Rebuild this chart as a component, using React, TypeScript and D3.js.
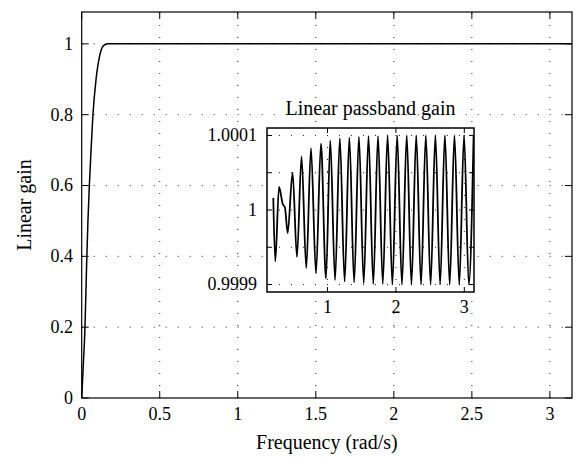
import React from 'react';
import * as d3 from 'd3';

// main plot: overall gain response
const mainFreq = [0, 0.011, 0.021, 0.027, 0.033, 0.04, 0.049, 0.06, 0.072, 0.092, 0.117, 0.14, 0.167, 0.25, Math.PI];
const mainGain = [0, 0.1, 0.2, 0.3, 0.4, 0.5, 0.6, 0.7, 0.8, 0.9, 0.97, 0.995, 1, 1, 1];
const mainXTicks = [0, 0.5, 1, 1.5, 2, 2.5, 3];
const mainYTicks = [0, 0.2, 0.4, 0.6, 0.8, 1];

// inset: passband ripple, read at the turning points (deviation from 1, in units of 1e-4)
const insetFreq = [
  0.207, 0.236, 0.291, 0.345, 0.378, 0.417, 0.489, 0.553, 0.62, 0.689, 0.758, 0.831, 0.904, 0.977,
  1.04, 1.11, 1.18, 1.25, 1.319, 1.389, 1.459, 1.529, 1.599, 1.669, 1.738, 1.808, 1.878, 1.948,
  2.018, 2.088, 2.158, 2.227, 2.297, 2.367, 2.437, 2.507, 2.577, 2.646, 2.716, 2.786, 2.856, 2.926,
  2.996, 3.066, 3.136,
];
const insetDev = [
  0.16, -0.69, 0.31, 0.08, 0.03, -0.31, 0.5, -0.63, 0.72, -0.78, 0.83, -0.85, 0.89, -0.92,
  0.93, -0.94, 0.96, -0.96, 0.97, -0.97, 0.98, -0.98, 0.99, -0.99, 0.99, -0.99, 1.0, -1.0,
  1.0, -1.0, 1.0, -1.0, 1.0, -1.0, 1.0, -1.0, 1.0, -1.0, 1.0, -1.0, 1.0, -1.0,
  1.0, -1.0, 1.0,
];
const insetXTicks = [1, 2, 3];
const insetYTicks = [0.9999, 0.99995, 1, 1.00005, 1.0001];
const insetYLabels = ['1.0001', '1', '0.9999'];
const insetYLabelVals = [1.0001, 1, 0.9999];

const W = 580;
const H = 459;
const FONT = '"Liberation Serif", "DejaVu Serif", serif';

export default function App() {
  const x = d3.scaleLinear().domain([0, Math.PI]).range([81.7, 572]);
  const y = d3.scaleLinear().domain([0, 1.09]).range([398, 12]);

  const ix = d3.scaleLinear().domain([0.115, Math.PI]).range([267, 474]);
  const iy = d3.scaleLinear().domain([0.99989, 1.00011]).range([292, 128]);

  const [x0, x1] = x.range();
  const [y0, y1] = y.range();
  const [ix0, ix1] = ix.range();
  const [iy0, iy1] = iy.range();

  const mainLine = d3.line<number>()
    .x((d, i) => x(mainFreq[i]))
    .y(d => y(d))
    .curve(d3.curveMonotoneX);

  const insetLine = d3.line<number>()
    .x((d, i) => ix(insetFreq[i]))
    .y(d => iy(1 + d * 1e-4))
    .curve(d3.curveMonotoneX);

  const grid = { stroke: '#222', strokeWidth: 1, strokeDasharray: '1,11' };
  const tickLen = 7;
  const iTickLen = 5;

  return (
    <svg width={W} height={H} style={{ position: 'absolute', left: 0, top: 0, background: '#fff' }}
      fontFamily={FONT}>
      <rect x={0} y={0} width={W} height={H} fill="#fff" />
      <defs>
        <clipPath id="mainClip"><rect x={x0} y={y1} width={x1 - x0} height={y0 - y1} /></clipPath>
        <clipPath id="insetClip"><rect x={ix0} y={iy1} width={ix1 - ix0} height={iy0 - iy1} /></clipPath>
      </defs>

      {/* main grid */}
      {mainXTicks.filter(t => t > 0).map(t => (
        <line key={'gx' + t} x1={x(t)} x2={x(t)} y1={y0} y2={y1} {...grid} />
      ))}
      {mainYTicks.filter(t => t > 0).map(t => (
        <line key={'gy' + t} x1={x0} x2={x1} y1={y(t)} y2={y(t)} {...grid} />
      ))}

      {/* main ticks */}
      {mainXTicks.map(t => (
        <g key={'tx' + t}>
          <line x1={x(t)} x2={x(t)} y1={y0} y2={y0 - tickLen} stroke="#000" />
          <line x1={x(t)} x2={x(t)} y1={y1} y2={y1 + tickLen} stroke="#000" />
          <text x={x(t)} y={420} textAnchor="middle" fontSize={18}>{String(t)}</text>
        </g>
      ))}
      {mainYTicks.map(t => (
        <g key={'ty' + t}>
          <line x1={x0} x2={x0 + tickLen} y1={y(t)} y2={y(t)} stroke="#000" />
          <line x1={x1} x2={x1 - tickLen} y1={y(t)} y2={y(t)} stroke="#000" />
          <text x={73} y={y(t)} dy="0.33em" textAnchor="end" fontSize={18}>{String(t)}</text>
        </g>
      ))}

      <path d={mainLine(mainGain) || ''} fill="none" stroke="#000" strokeWidth={1.5} clipPath="url(#mainClip)" />
      <rect x={x0} y={y1} width={x1 - x0} height={y0 - y1} fill="none" stroke="#000" strokeWidth={1.2} />

      <text x={(x0 + x1) / 2} y={449} textAnchor="middle" fontSize={20}>Frequency (rad/s)</text>
      <text transform={`translate(31,${(y0 + y1) / 2}) rotate(-90)`} textAnchor="middle" fontSize={20}>Linear gain</text>

      {/* inset */}
      <rect x={ix0} y={iy1} width={ix1 - ix0} height={iy0 - iy1} fill="#fff" />
      {insetXTicks.map(t => (
        <line key={'igx' + t} x1={ix(t)} x2={ix(t)} y1={iy0} y2={iy1} {...grid} />
      ))}
      {insetYTicks.map(t => (
        <line key={'igy' + t} x1={ix0} x2={ix1} y1={iy(t)} y2={iy(t)} {...grid} />
      ))}
      {insetXTicks.map(t => (
        <g key={'itx' + t}>
          <line x1={ix(t)} x2={ix(t)} y1={iy0} y2={iy0 - iTickLen} stroke="#000" />
          <line x1={ix(t)} x2={ix(t)} y1={iy1} y2={iy1 + iTickLen} stroke="#000" />
          <text x={ix(t)} y={313} textAnchor="middle" fontSize={18}>{String(t)}</text>
        </g>
      ))}
      {insetYTicks.map(t => (
        <g key={'ity' + t}>
          <line x1={ix0} x2={ix0 + iTickLen} y1={iy(t)} y2={iy(t)} stroke="#000" />
          <line x1={ix1} x2={ix1 - iTickLen} y1={iy(t)} y2={iy(t)} stroke="#000" />
        </g>
      ))}
      {insetYLabels.map((s, i) => (
        <text key={'ily' + s} x={257} y={iy(insetYLabelVals[i])} dy="0.33em" textAnchor="end" fontSize={18}>{s}</text>
      ))}
      <path d={insetLine(insetDev) || ''} fill="none" stroke="#000" strokeWidth={1.8} clipPath="url(#insetClip)" />
      <rect x={ix0} y={iy1} width={ix1 - ix0} height={iy0 - iy1} fill="none" stroke="#000" strokeWidth={1.5} />
      <text x={(ix0 + ix1) / 2} y={115} textAnchor="middle" fontSize={20}>Linear passband gain</text>
    </svg>
  );
}
